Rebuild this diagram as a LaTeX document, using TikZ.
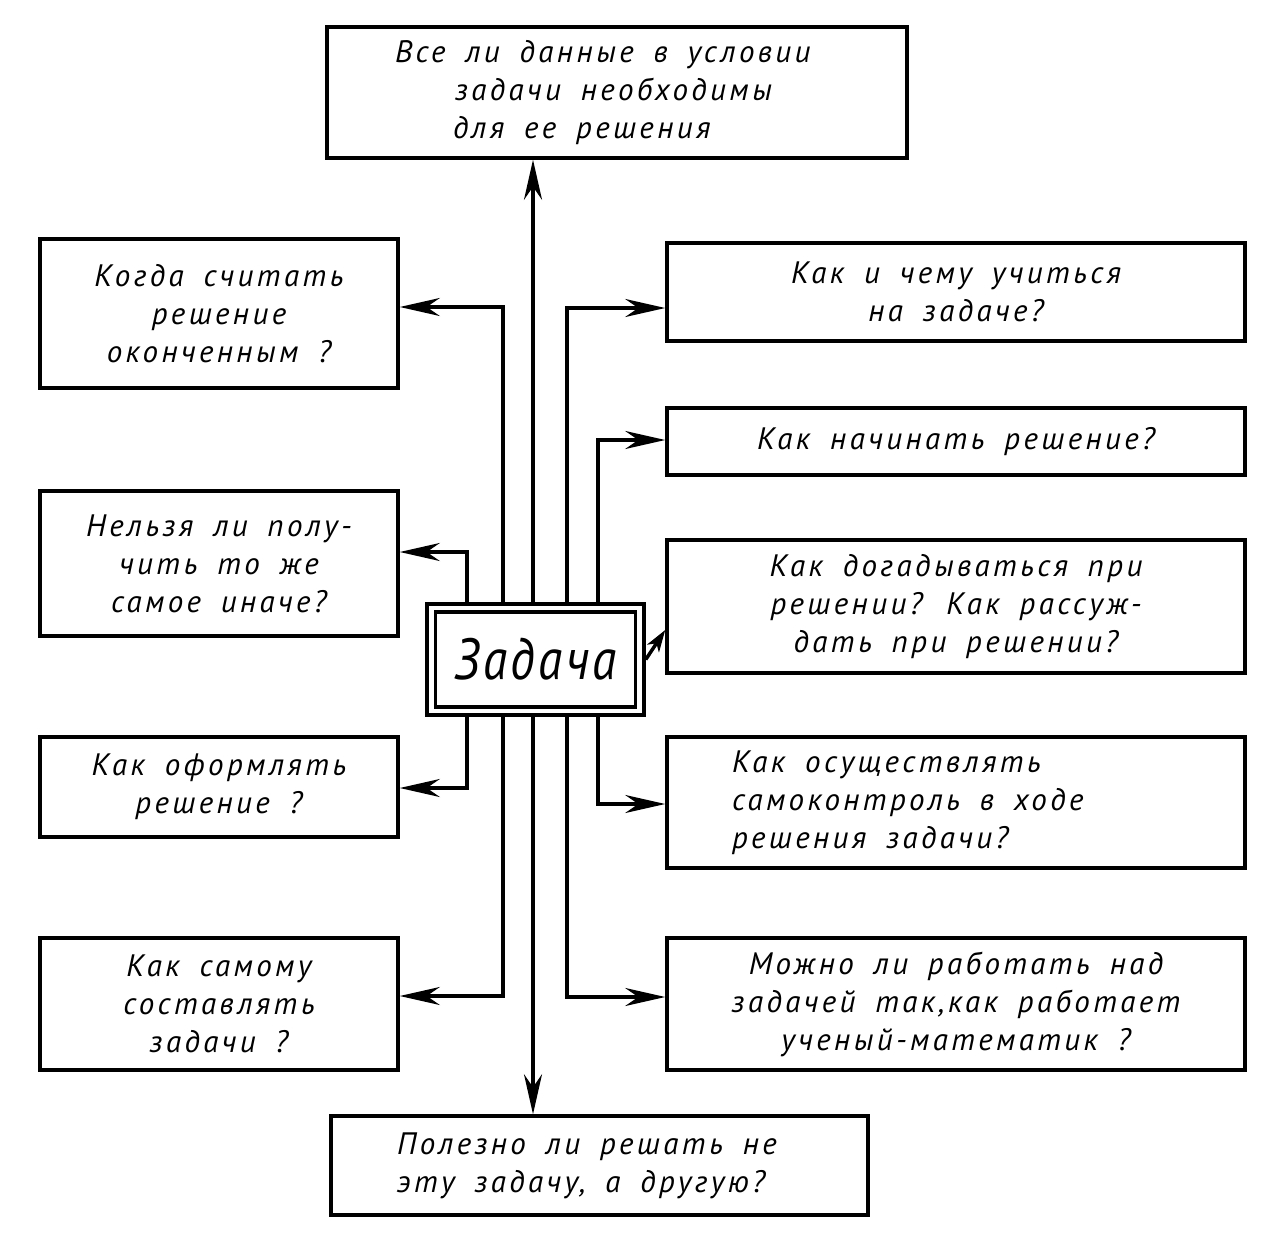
\documentclass[tikz,border=0pt]{standalone}
\usepackage{fontspec}
\setmainfont{PT Sans}
\newfontfamily\qfam[LetterSpace=11,WordSpace={1.7,1,0}]{PT Sans}
\newfontfamily\zfam[LetterSpace=6,FakeStretch=0.85]{PT Sans}
\newcommand\qfont{\qfam\itshape\fontsize{31}{38}\selectfont}
\newcommand\zfont{\zfam\itshape\fontsize{58}{66}\selectfont}
\usetikzlibrary{arrows.meta}
\begin{document}
\begin{tikzpicture}[x=1pt,y=-1pt,
  box/.style={draw,line width=3.5pt,inner sep=0pt,align=center,font=\qfont},
  lbox/.style={box,align=flush left},
  conn/.style={line width=3.5pt,-{Stealth[length=40pt,width=18pt,inset=13pt]}},
  smallconn/.style={line width=3.5pt,-{Stealth[length=22pt,width=14pt,inset=6pt]}}
]
\useasboundingbox[fill=white] (0,0) rectangle (1286,1236);

\node[lbox,minimum width=580pt,minimum height=131pt,text width=444pt] (top) at (617,92.5)
  {Все ли данные в условии\\\hspace*{60pt}задачи необходимы\\\hspace*{58pt}для ее решения};
\node[box,minimum width=358pt,minimum height=149pt] (kogda) at (219,313.5)
  {Когда считать\\решение\\оконченным ?};
\node[box,minimum width=358pt,minimum height=145pt] (nelzya) at (219,563.5)
  {Нельзя ли полу-\\чить то же\\самое иначе?};
\node[box,minimum width=358pt,minimum height=100pt] (oform) at (219,787)
  {Как оформлять\\решение ?};
\node[box,minimum width=358pt,minimum height=132pt] (samomu) at (219,1004)
  {Как самому\\составлять\\задачи ?};
\node[box,minimum width=578pt,minimum height=98pt] (kaki) at (956,292)
  {Как и чему учиться\\на задаче?};
\node[box,minimum width=578pt,minimum height=67pt] (nach) at (956,441.5)
  {Как начинать решение?};
\node[box,minimum width=578pt,minimum height=133pt] (dogad) at (956,606.5)
  {Как догадываться при\\решении? Как рассуж-\\дать при решении?};
\node[lbox,minimum width=578pt,minimum height=131pt,text width=448pt] (osush) at (956,802.5)
  {Как осуществлять\\самоконтроль в ходе\\решения задачи?};
\node[box,minimum width=578pt,minimum height=132pt] (mozhno) at (956,1004)
  {Можно ли работать над\\задачей так,как работает\\ученый-математик ?};
\node[lbox,minimum width=537pt,minimum height=99pt,text width=405pt] (bottom) at (599.5,1165.5)
  {Полезно ли решать не\\эту задачу, а другую?};

\node[draw,line width=3.5pt,minimum width=217pt,minimum height=111pt,inner sep=0pt] (zad) at (535.5,659.5) {};
\node[draw,line width=3.5pt,minimum width=200pt,minimum height=95pt,inner sep=0pt,font=\zfont] (zadi) at (535.5,659.5) {Задача};

\draw[conn] ([xshift=-2.5pt]zad.north) -- ([xshift=-2.5pt]zad.north |- top.south);
\draw[conn] ([xshift=-2.5pt]zad.south) -- ([xshift=-2.5pt]zad.south |- bottom.north);
\draw[conn] ([xshift=-32.5pt]zad.north) |- ([yshift=6.5pt]kogda.east);
\draw[conn] ([xshift=-68.5pt]zad.north) |- ([yshift=11.5pt]nelzya.east);
\draw[conn] ([xshift=31.5pt]zad.north) |- ([yshift=-16pt]kaki.west);
\draw[conn] ([xshift=62.5pt]zad.north) |- ([yshift=1.5pt]nach.west);
\draw[conn] ([xshift=-68.5pt]zad.south) |- ([yshift=-1pt]oform.east);
\draw[conn] ([xshift=-32.5pt]zad.south) |- ([yshift=8pt]samomu.east);
\draw[conn] ([xshift=62.5pt]zad.south) |- ([yshift=-1.5pt]osush.west);
\draw[conn] ([xshift=31.5pt]zad.south) |- ([yshift=7pt]mozhno.west);
\draw[smallconn] (zad.east) -- ([yshift=-23.5pt]dogad.west);
\end{tikzpicture}
\end{document}
